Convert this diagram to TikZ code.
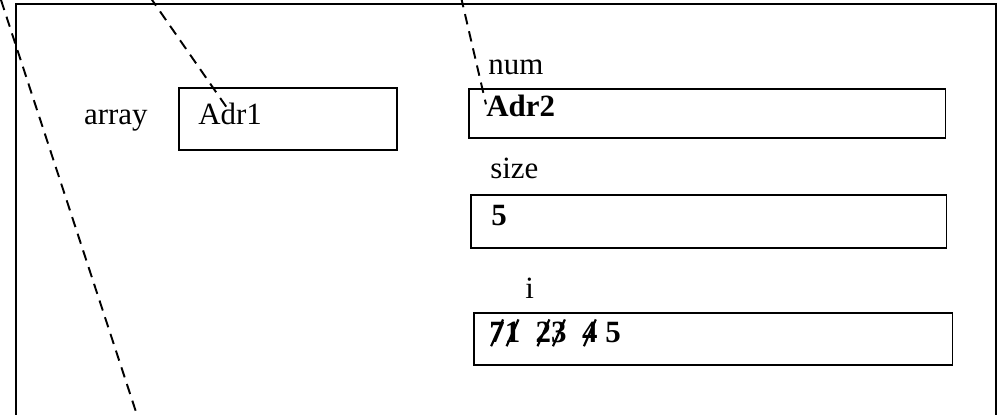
\documentclass[tikz,border=0pt]{standalone}
\usepackage{fontspec}
\setmainfont{Liberation Serif}
\usetikzlibrary{positioning}
\newcommand{\strk}[1]{\ooalign{#1\cr\hidewidth\raisebox{-0.12em}{\rotatebox{66}{\rule{0.95em}{0.07em}}}\hidewidth\cr}}

\begin{document}
\begin{tikzpicture}[x=0.02cm,y=-0.02cm,
	every node/.style={inner sep=0pt,font=\fontsize{17.6}{21}\selectfont},
	cell/.style={draw,line width=0.9pt,anchor=north west},
	txt/.style={anchor=base west,text height=0.7em,text depth=0.2em},
	ptr/.style={line width=1.1pt,dash pattern=on 6pt off 4pt}]
		\useasboundingbox (0,0) rectangle (998,415);
		\draw[line width=1.1pt] (16,430) |- (996,4) -- (996,430);
		\node[cell,minimum width=4.36cm,minimum height=1.24cm] (arrbox) at (178,87) {};
		\node[txt] (arrval) at (198,125) {Adr1};
		\node[txt,left=1cm of arrval] (arrlbl) {array};
		\node[cell,minimum width=9.54cm,minimum height=0.98cm] (numbox) at (468,88) {};
		\node[txt] (numval) at (486,117) {\textbf{Adr2}};
		\node[txt] (numlbl) at (488,75) {num};
		\node[cell,minimum width=9.52cm,minimum height=1.06cm] (sizebox) at (470,194) {};
		\node[txt] (sizeval) at (491,226) {\textbf{5}};
		\node[txt] (sizelbl) at (490,179) {size};
		\node[cell,minimum width=9.58cm,minimum height=1.04cm] (ibox) at (473,312) {};
		\node[txt] (ival) at (489,343) {\textbf{\strk{7}\strk{1}\enspace\strk{2}\strk{3}\enspace\strk{4} 5}};
		\node[txt] (ilbl) at (525,299) {i};
		\coordinate (far1) at (1,0);
		\coordinate (far2) at (138,418);
		\coordinate (far3) at (150,-3);
		\coordinate (far4) at (461,-3);
		\draw[ptr] (far1) -- (far2);
		\draw[ptr] (far3) -- (arrval.north);
		\draw[ptr] (far4) -- (numval.north west);
	\end{tikzpicture}
\end{document}
